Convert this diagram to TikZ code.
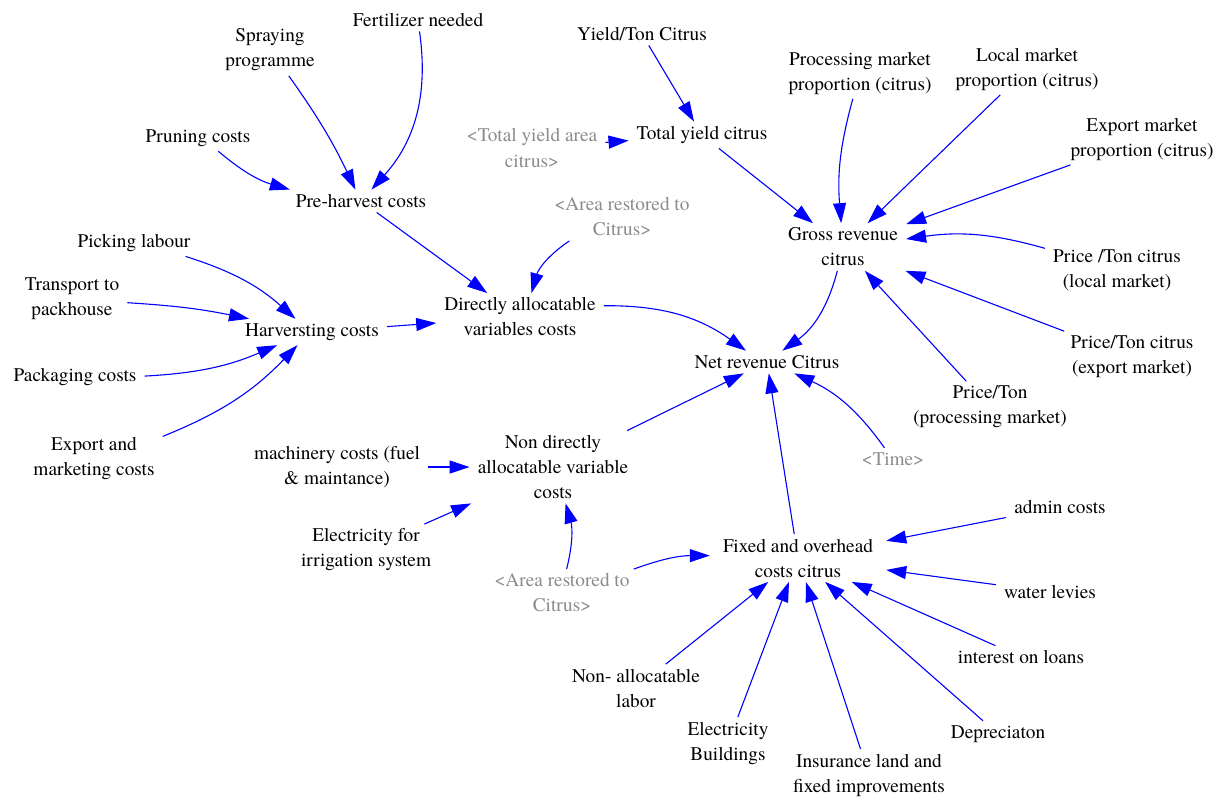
\documentclass[tikz,border=0pt]{standalone}
\usepackage{fontspec}
\setmainfont{texgyretermes}[Extension=.otf, UprightFont=*-regular, BoldFont=*-bold, ItalicFont=*-italic, BoldItalicFont=*-bolditalic]
\usetikzlibrary{arrows.meta}
\definecolor{linkblue}{RGB}{0,0,255}
\definecolor{ghostgray}{RGB}{140,140,140}
\begin{document}
\begin{tikzpicture}[x=1pt,y=-1pt,
  var/.style={font=\fontsize{19.3}{25}\selectfont, align=center, inner xsep=8pt, inner ysep=4.5pt},
  ghostvar/.style={var, text=ghostgray},
  link/.style={draw=linkblue, line width=1.1pt, -{Triangle[length=20pt,width=13pt]}}]
\useasboundingbox[fill=white] (0,0) rectangle (1225,801);
% nodes
\node[var] (fert) at (418,20) {Fertilizer needed};
\node[var] (spray) at (270,50) {Spraying\\programme};
\node[var] (prun) at (198,138) {Pruning costs};
\node[var] (pre) at (361,201) {Pre-harvest costs};
\node[var] (yield) at (642,34) {Yield/Ton Citrus};
\node[ghostvar] (tya) at (532,148) {\textless Total yield area\\citrus\textgreater};
\node[var] (tyc) at (702,135) {Total yield citrus};
\node[var] (proc) at (860,73) {Processing market\\proportion (citrus)};
\node[var] (local) at (1027,69) {Local market\\proportion (citrus)};
\node[var] (export) at (1142,139) {Export market\\proportion (citrus)};
\node[var] (gross) at (843,247) {Gross revenue\\citrus};
\node[var] (plocal) at (1117,270) {Price /Ton citrus\\(local market)};
\node[var] (pexport) at (1132,357) {Price/Ton citrus\\(export market)};
\node[var] (pproc) at (990,407) {Price/Ton\\(processing market)};
\node[ghostvar] (areaA) at (622,217) {\textless Area restored to\\Citrus\textgreater};
\node[var] (direct) at (520,317) {Directly allocatable\\variables costs};
\node[var] (net) at (767,362) {Net revenue Citrus};
\node[var] (pick) at (134,243) {Picking labour};
\node[var] (trans) at (72,299) {Transport to\\packhouse};
\node[var] (harv) at (312,332) {Harversting costs};
\node[var] (pack) at (75,377) {Packaging costs};
\node[var] (expmk) at (94,459) {Export and\\marketing costs};
\node[var] (mach) at (337,467) {machinery costs (fuel\\\& maintance)};
\node[var] (nondir) at (553,467) {Non directly\\allocatable variable\\costs};
\node[ghostvar] (time) at (893,459) {\textless Time\textgreater};
\node[var] (elirr) at (366,550) {Electricity for\\irrigation system};
\node[ghostvar] (areaB) at (562,593) {\textless Area restored to\\Citrus\textgreater};
\node[var, inner xsep=13pt] (fixed) at (798,558) {Fixed and overhead\\costs citrus};
\node[var] (admin) at (1060,507) {admin costs};
\node[var] (water) at (1050,592) {water levies};
\node[var] (interest) at (1021,657) {interest on loans};
\node[var] (nonlab) at (636,688) {Non- allocatable\\labor};
\node[var] (elbld) at (728,743) {Electricity\\Buildings};
\node[var] (insur) at (869,775) {Insurance land and\\fixed improvements};
\node[var] (depr) at (998,734) {Depreciaton};
% links
\draw[link] (fert) to[bend left=25] (pre);
\draw[link] (spray) to[bend left=5] (pre);
\draw[link] (prun) to[bend right=12] (pre);
\draw[link] (pre) -- (direct);
\draw[link] (areaA) to[bend right=20] (direct);
\draw[link] (yield) -- (tyc);
\draw[link] (tya) -- (tyc);
\draw[link] (tyc) -- (gross);
\draw[link] (proc) to[bend right=10] (gross);
\draw[link] (local) -- (gross);
\draw[link] (export) -- (gross);
\draw[link] (plocal) to[bend right=12] (gross);
\draw[link] (pexport) -- (gross);
\draw[link] (pproc) -- (gross);
\draw[link] (gross) to[bend left=20] (net);
\draw[link] (direct) to[bend left=18] (net);
\draw[link] (harv) -- (direct);
\draw[link] (pick) to[bend left=12] (harv);
\draw[link] (trans) to[bend left=4] (harv);
\draw[link] (pack) to[bend right=10] (harv);
\draw[link] (expmk) to[bend right=12] (harv);
\draw[link] (nondir) -- (net);
\draw[link] (fixed) -- (net);
\draw[link] (time) to[bend right=15] (net);
\draw[link] (mach) -- (nondir);
\draw[link] (elirr) -- (nondir);
\draw[link] (areaB) to[bend right=15] (nondir);
\draw[link] (areaB) to[bend left=10] (fixed);
\draw[link] (admin) -- (fixed);
\draw[link] (water) -- (fixed);
\draw[link] (interest) -- (fixed);
\draw[link] (depr) -- (fixed);
\draw[link] (insur) -- (fixed);
\draw[link] (elbld) -- (fixed);
\draw[link] (nonlab) -- (fixed);
\end{tikzpicture}
\end{document}
